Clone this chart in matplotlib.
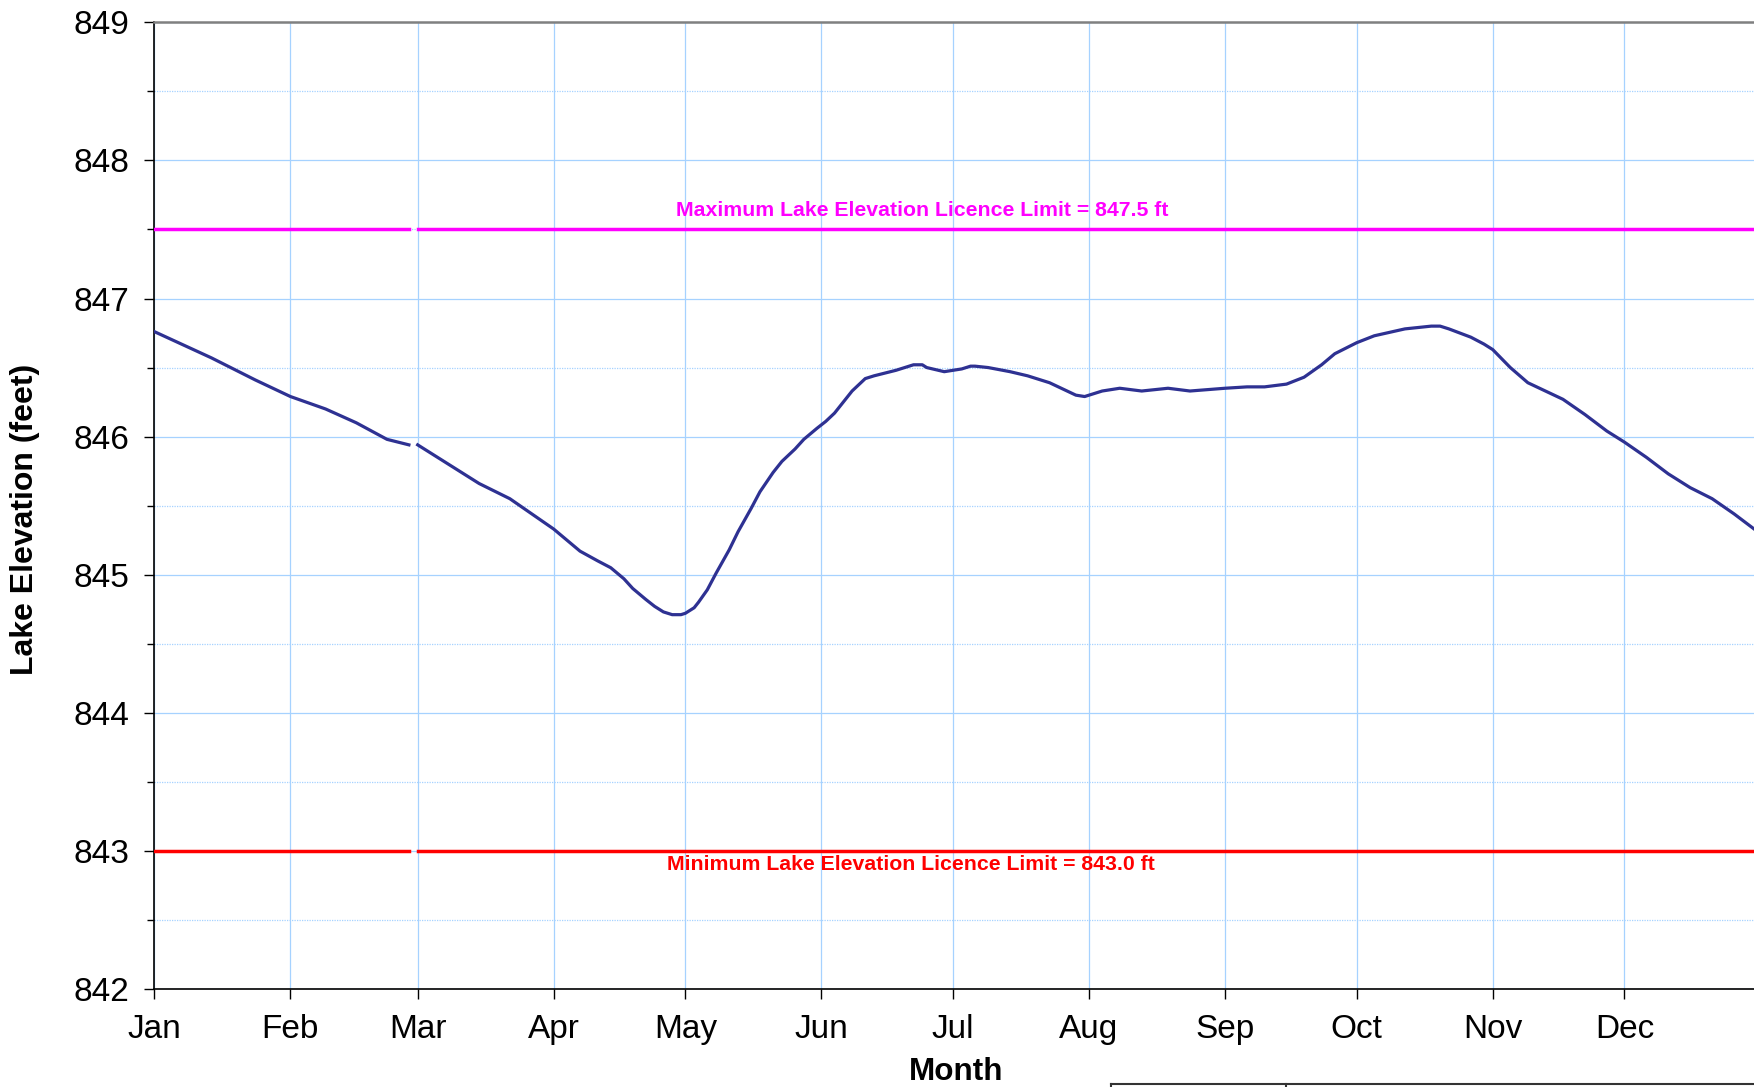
"""
Lake elevation over the year against licence limits.
"""

import matplotlib

matplotlib.use("Agg")
import matplotlib.pyplot as plt
from matplotlib.lines import Line2D
import numpy as np

plt.rcParams["font.family"] = ["Liberation Sans", "DejaVu Sans"]

# leap-year day index (Jan 1 = 0); Feb 29 is missing in the record
MONTH_DAYS = [0, 31, 60, 91, 121, 152, 182, 213, 244, 274, 305, 335]
MONTH_LABELS = ["Jan", "Feb", "Mar", "Apr", "May", "Jun",
                "Jul", "Aug", "Sep", "Oct", "Nov", "Dec"]

DAYS = [0, 13, 23, 31, 39, 46, 53, 58, 59,
        60, 66, 74, 81, 91, 97, 101, 104, 107, 109, 112, 114, 116, 118, 120,
        121, 123, 124, 126, 128, 131, 133, 136, 138, 141, 143, 146, 148, 151,
        153, 155, 157, 159, 161, 162, 164, 169, 171, 173, 175, 176, 180, 182,
        184, 186, 187, 190, 195, 199, 204, 206, 208, 210, 212, 214, 216, 220,
        225, 231, 236, 244, 249, 253, 258, 262, 266, 269, 274, 278, 285, 288,
        291, 293, 295, 300, 303, 305, 309, 313, 317, 321, 326, 331, 335, 340,
        345, 350, 355, 360, 365]
ELEVATION = [846.76, 846.57, 846.41, 846.29, 846.20, 846.10, 845.98, 845.94, np.nan,
             845.94, 845.82, 845.66, 845.55, 845.33, 845.17, 845.10, 845.05, 844.97,
             844.90, 844.82, 844.77, 844.73, 844.71, 844.71, 844.72, 844.76, 844.80,
             844.89, 845.01, 845.18, 845.31, 845.48, 845.60, 845.74, 845.82, 845.91,
             845.98, 846.06, 846.11, 846.17, 846.25, 846.33, 846.39, 846.42, 846.44,
             846.48, 846.50, 846.52, 846.52, 846.50, 846.47, 846.48, 846.49, 846.51,
             846.51, 846.50, 846.47, 846.44, 846.39, 846.36, 846.33, 846.30, 846.29,
             846.31, 846.33, 846.35, 846.33, 846.35, 846.33, 846.35, 846.36, 846.36,
             846.38, 846.43, 846.52, 846.60, 846.68, 846.73, 846.78, 846.79, 846.80,
             846.80, 846.78, 846.72, 846.67, 846.63, 846.50, 846.39, 846.33, 846.27,
             846.16, 846.04, 845.96, 845.85, 845.73, 845.63, 845.55, 845.44, 845.32]

LIMIT_DAYS = [0, 58, 59, 60, 366]
MAX_LIMIT = [847.5, 847.5, np.nan, 847.5, 847.5]
MIN_LIMIT = [843.0, 843.0, np.nan, 843.0, 843.0]

W, H = 1754, 1087
fig = plt.figure(figsize=(W / 100, H / 100), dpi=100)
left, right = 154.4 / W, (154.4 + 366 * 4.388) / W
bottom, top = 1 - 988.8 / H, 1 - 22.4 / H
ax = fig.add_axes([left, bottom, right - left, top - bottom])

ax.plot(LIMIT_DAYS, MAX_LIMIT, color="#FF00FF", linewidth=2.5, zorder=3)
ax.plot(LIMIT_DAYS, MIN_LIMIT, color="#FF0000", linewidth=2.5, zorder=3)
ax.plot(DAYS, ELEVATION, color="#2E3192", linewidth=2.3, zorder=4,
        solid_joinstyle="round")

ax.text(175, 847.64, "Maximum Lake Elevation Licence Limit = 847.5 ft",
        color="#FF00FF", fontsize=15.3, fontweight="bold", ha="center", va="center")
ax.text(172.5, 842.90, "Minimum Lake Elevation Licence Limit = 843.0 ft",
        color="#FF0000", fontsize=15.3, fontweight="bold", ha="center", va="center")

ax.set_xlim(0, 366)
ax.set_ylim(842, 849)
ax.set_xticks(MONTH_DAYS)
ax.set_xticklabels(MONTH_LABELS)
ax.set_yticks(np.arange(842, 850, 1))
ax.set_yticks(np.arange(842.5, 849, 1), minor=True)

ax.grid(which="major", axis="both", color="#A6D2FF", linewidth=0.9)
ax.grid(which="minor", axis="y", color="#A6D2FF", linewidth=0.9, linestyle=(0, (1, 1)))
ax.set_axisbelow(True)

ax.tick_params(axis="both", which="major", direction="out", length=7, width=1,
               labelsize=24, pad=11)
ax.tick_params(axis="y", which="minor", direction="out", length=5, width=1)
ax.tick_params(axis="x", which="major", pad=11)

ax.spines["left"].set_linewidth(1.2)
ax.spines["bottom"].set_linewidth(1.2)
ax.spines["top"].set_color("#808080")
ax.spines["top"].set_linewidth(1.8)
ax.spines["right"].set_visible(False)

fig.text(25 / W, 1 - 519 / H, "Lake Elevation (feet)", rotation=90,
         fontsize=23, fontweight="bold", ha="center", va="center")
fig.text(956 / W, 1 - 1072 / H, "Month", fontsize=22.6, fontweight="bold",
         ha="center", va="center")

# edge of the table box cut off under the chart
fig.add_artist(Line2D([1111 / W, 1.0], [1 - 1084 / H] * 2, color="#333333",
                      linewidth=1.5, transform=fig.transFigure))
for xb in (1111, 1286):
    fig.add_artist(Line2D([xb / W] * 2, [0, 1 - 1084 / H], color="#333333",
                          linewidth=1.5, transform=fig.transFigure))

fig.savefig("out.png", dpi=100)
